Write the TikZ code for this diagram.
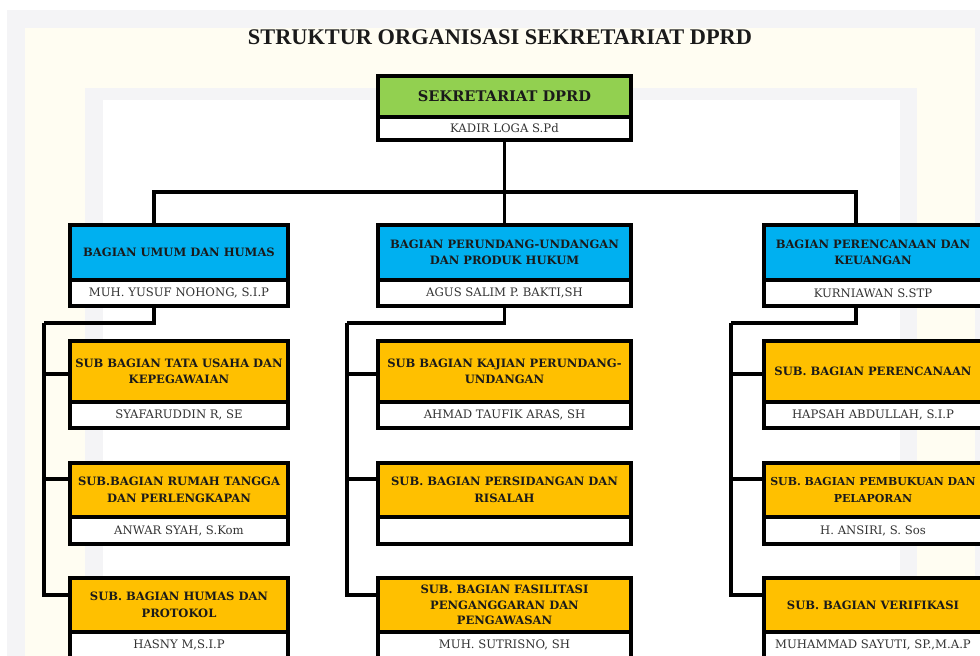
\documentclass[tikz,border=0pt]{standalone}
\usepackage{fontspec}
\setmainfont{DejaVu Serif}
\newfontfamily\titlefont{Liberation Serif}
\usepackage{tikz}
\usetikzlibrary{
  calc,
  positioning,
  backgrounds
}
\definecolor{hdgreen}{HTML}{92D050}
\definecolor{hdblue}{HTML}{00B0F0}
\definecolor{hdgold}{HTML}{FFC000}
\definecolor{ink}{HTML}{1A1A1A}
\definecolor{inkname}{HTML}{333333}
\definecolor{wmgray}{HTML}{F4F4F6}
\definecolor{wmcream}{HTML}{FFFDF2}
\tikzset{
  every node/.style={text=ink},
  boxline/.style={
    draw=black,
    line width=2.2pt,
    outer sep=0pt,
    align=center,
    inner xsep=1pt,
    inner ysep=2pt
  },
  headbox/.style={
    boxline,
    font=\bfseries\fontsize{8.2}{11.8}\selectfont
  },
  topbox/.style={headbox, fill=hdgreen, minimum width=6.325cm, minimum height=1.025cm,
    font=\bfseries\fontsize{10.4}{12}\selectfont},
  bagbox/.style={headbox, fill=hdblue, minimum height=1.375cm},
  subbox/.style={headbox, fill=hdgold, minimum height=1.35cm},
  namebox/.style={
    boxline,
    fill=white,
    minimum height=0.65cm,
    text=inkname,
    font=\fontsize{8.3}{10}\selectfont
  },
  narrow/.style={minimum width=5.45cm},
  wide/.style={minimum width=6.325cm},
  link/.style={draw=black, line width=2.2pt},
}

\begin{document}
\begin{tikzpicture}[x=0.025cm, y=-0.025cm]

  \useasboundingbox (0,0) rectangle (980,656);

  % background tint
  \begin{scope}[on background layer]
    \fill[white] (0,0) rectangle (980,656);
    \fill[wmgray] (7,10) rectangle (980,656);
    \fill[wmcream] (25,28) rectangle (975,656);
    \fill[wmgray] (85,88) rectangle (917,656);
    \fill[white] (103,100) rectangle (900,656);
  \end{scope}

  \node[font=\titlefont\bfseries\fontsize{15.9}{18}\selectfont] (title)
    at (500,37) {STRUKTUR ORGANISASI SEKRETARIAT DPRD};

  % =====================================================================
  % Sekretaris
  % =====================================================================
  \node[topbox] (hSekre) at (504.5,96.5) {SEKRETARIAT DPRD};
  \node[namebox, wide, minimum height=0.575cm, below=0pt of hSekre] (nSekre)
    {KADIR LOGA S.Pd};

  % =====================================================================
  % Bagian
  % =====================================================================
  \node[bagbox, narrow] (hUmum) at (179,252.5) {BAGIAN UMUM DAN HUMAS};
  \node[namebox, narrow, below=0pt of hUmum] (nUmum) {MUH. YUSUF NOHONG, S.I.P};

  \node[bagbox, wide] (hHukum) at (504.5,252.5)
    {BAGIAN PERUNDANG-UNDANGAN\\DAN PRODUK HUKUM};
  \node[namebox, wide, below=0pt of hHukum] (nHukum) {AGUS SALIM P. BAKTI,SH};

  \node[bagbox, narrow] (hRenc) at (873,252.5)
    {BAGIAN PERENCANAAN DAN\\KEUANGAN};
  \node[namebox, narrow, below=0pt of hRenc] (nRenc) {KURNIAWAN S.STP};

  % =====================================================================
  % Sub bagian -- kolom kiri
  % =====================================================================
  \node[subbox, narrow, minimum height=1.525cm] (hTata) at (179,371.5)
    {SUB BAGIAN TATA USAHA DAN\\KEPEGAWAIAN};
  \node[namebox, narrow, below=0pt of hTata] (nTata) {SYAFARUDDIN R, SE};

  \node[subbox, narrow] (hRumah) at (179,490)
    {SUB.BAGIAN RUMAH TANGGA\\DAN PERLENGKAPAN};
  \node[namebox, narrow, minimum height=0.675cm, below=0pt of hRumah] (nRumah)
    {ANWAR SYAH, S.Kom};

  \node[subbox, narrow] (hHumas) at (179,605)
    {SUB. BAGIAN HUMAS DAN\\PROTOKOL};
  \node[namebox, narrow, below=0pt of hHumas] (nHumas) {HASNY M,S.I.P};

  % =====================================================================
  % Sub bagian -- kolom tengah
  % =====================================================================
  \node[subbox, wide, minimum height=1.525cm] (hKajian) at (504.5,371.5)
    {SUB BAGIAN KAJIAN PERUNDANG-\\UNDANGAN};
  \node[namebox, wide, below=0pt of hKajian] (nKajian) {AHMAD TAUFIK ARAS, SH};

  \node[subbox, wide] (hSidang) at (504.5,490)
    {SUB. BAGIAN PERSIDANGAN DAN\\RISALAH};
  \node[namebox, wide, minimum height=0.675cm, below=0pt of hSidang] (nSidang) {};

  \node[subbox, wide, font=\bfseries\fontsize{8.2}{11}\selectfont, inner ysep=1pt]
    (hFasil) at (504.5,605)
    {SUB. BAGIAN FASILITASI\\PENGANGGARAN DAN\\PENGAWASAN};
  \node[namebox, wide, below=0pt of hFasil] (nFasil) {MUH. SUTRISNO, SH};

  % =====================================================================
  % Sub bagian -- kolom kanan
  % =====================================================================
  \node[subbox, narrow, minimum height=1.525cm] (hPeren) at (873,371.5)
    {SUB. BAGIAN PERENCANAAN};
  \node[namebox, narrow, below=0pt of hPeren] (nPeren) {HAPSAH ABDULLAH, S.I.P};

  % text is slightly narrower here so the box keeps its width
  \node[subbox, narrow, font=\bfseries\fontsize{7.8}{11.8}\selectfont, inner xsep=0pt]
    (hBuku) at (873,490)
    {SUB. BAGIAN PEMBUKUAN DAN\\PELAPORAN};
  \node[namebox, narrow, minimum height=0.675cm, below=0pt of hBuku] (nBuku)
    {H. ANSIRI, S. Sos};

  \node[subbox, narrow] (hVerif) at (873,605)
    {SUB. BAGIAN VERIFIKASI};
  \node[namebox, narrow, below=0pt of hVerif] (nVerif)
    {MUHAMMAD SAYUTI, SP.,M.A.P};

  % =====================================================================
  % Garis komando
  % =====================================================================
  \coordinate (busL) at (154,192);
  \coordinate (busR) at (856,192);
  \draw[link] (nSekre.south) -- (nSekre.south |- busL);
  \draw[link] (busL |- hUmum.north) -- (busL) -- (busR) -- (busR |- hRenc.north);
  \draw[link] (nSekre.south |- busL) -- (hHukum.north);

  % kiri
  \coordinate (jUmum) at (154,323);
  \coordinate (tUmum) at (44,323);
  \draw[link] (jUmum |- nUmum.south) -- (jUmum) -- (tUmum);
  \draw[link] (tUmum) |- ([yshift=-1.8pt]hTata.west);
  \draw[link] (tUmum) |- ([yshift=7.8pt]hRumah.west);
  \draw[link] (tUmum) |- ([yshift=7.1pt]hHumas.west);

  % tengah
  \coordinate (jHukum) at (504.5,323);
  \coordinate (tHukum) at (347,323);
  \draw[link] (nHukum.south) -- (jHukum) -- (tHukum);
  \draw[link] (tHukum) |- ([yshift=-1.8pt]hKajian.west);
  \draw[link] (tHukum) |- ([yshift=7.8pt]hSidang.west);
  \draw[link] (tHukum) |- ([yshift=7.1pt]hFasil.west);

  % kanan
  \coordinate (jRenc) at (856,323);
  \coordinate (tRenc) at (731,323);
  \draw[link] (jRenc |- nRenc.south) -- (jRenc) -- (tRenc);
  \draw[link] (tRenc) |- ([yshift=-1.8pt]hPeren.west);
  \draw[link] (tRenc) |- ([yshift=7.8pt]hBuku.west);
  \draw[link] (tRenc) |- ([yshift=7.1pt]hVerif.west);

\end{tikzpicture}
\end{document}
